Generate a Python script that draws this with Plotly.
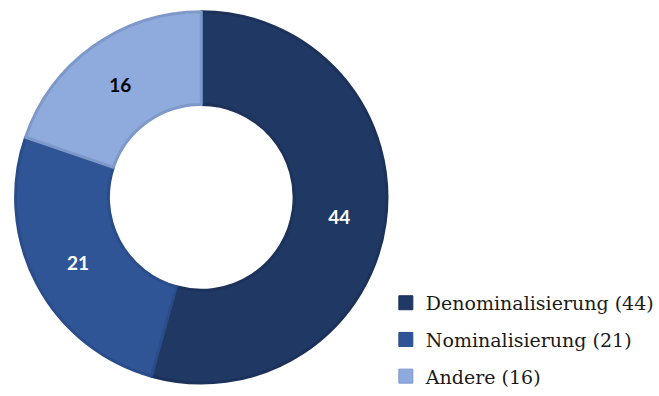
import plotly.graph_objects as go

labels = ["Denominalisierung (44)", "Nominalisierung (21)", "Andere (16)"]
values = [44, 21, 16]
colors = ["#203864", "#2F5597", "#8FAADC"]
edge_colors = ["#1C325A", "#2A4D8A", "#7E99C9"]
text_colors = ["white", "white", "black"]

W, H = 659, 396
fig = go.Figure()
fig.add_trace(go.Pie(
    labels=labels,
    values=values,
    hole=0.5,
    sort=False,
    direction="clockwise",
    rotation=0,
    textinfo="value",
    textposition="inside",
    insidetextorientation="horizontal",
    textfont=dict(family="Lato", size=19, color=text_colors, weight="bold"),
    marker=dict(colors=colors, line=dict(color=edge_colors, width=3)),
    domain=dict(x=[12 / W, 398 / W], y=[(H - 394) / H, (H - 12) / H]),
    showlegend=False,
))

# legend entries (one group per slice so the item spacing can be widened)
for i, (lab, col, ecol) in enumerate(zip(labels, colors, edge_colors)):
    fig.add_trace(go.Scatter(
        x=[None], y=[None], mode="markers", name=lab,
        marker=dict(symbol="square", size=14, color=col, line=dict(color=ecol, width=1)),
        legendgroup=f"g{i}", showlegend=True, hoverinfo="skip",
    ))

fig.update_layout(
    width=W, height=H,
    margin=dict(l=0, r=0, t=0, b=0),
    paper_bgcolor="white",
    plot_bgcolor="white",
    font=dict(family="DejaVu Serif"),
    xaxis=dict(visible=False),
    yaxis=dict(visible=False),
    showlegend=True,
    legend=dict(
        x=393 / W, y=1 - 292 / H, xanchor="left", yanchor="top",
        font=dict(family="DejaVu Serif", size=19, color="#1a1a1a"),
        bgcolor="rgba(0,0,0,0)",
        tracegroupgap=9,
        itemclick=False,
    ),
)

fig.write_html("out.html")
